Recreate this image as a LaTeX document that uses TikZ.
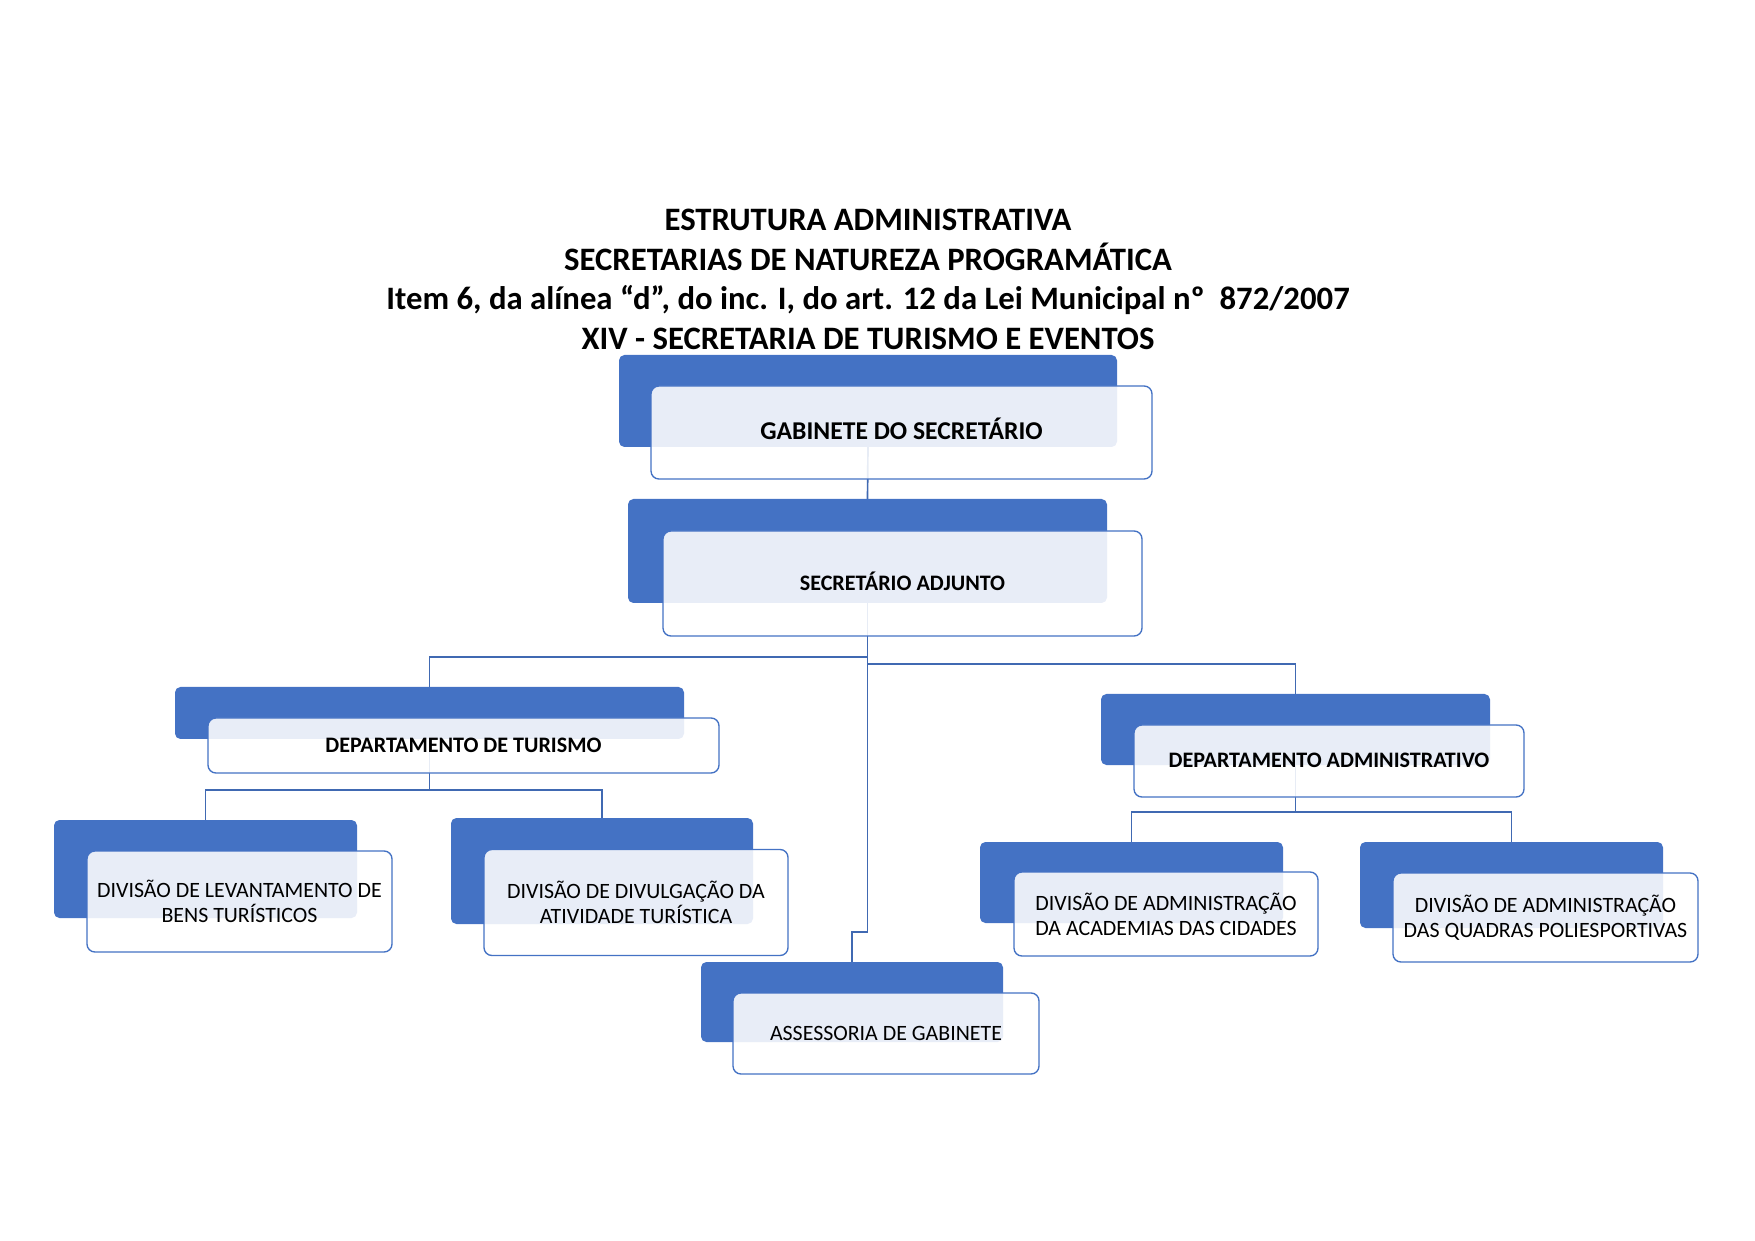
\documentclass[tikz,border=0pt]{standalone}
\usepackage{fontspec}
\setmainfont{Carlito}
\usetikzlibrary{backgrounds}
\definecolor{accent}{HTML}{4472C4}
\definecolor{linkc}{HTML}{4069B2}
\newcommand\pxu{0.4798pt}
\tikzset{
  bluebox/.style={fill=accent, draw=none, rounded corners=2.6pt, inner sep=0pt, outer sep=0pt},
  whitebox/.style={fill=white, fill opacity=0.88, text opacity=1, draw=accent, line width=0.65pt,
    rounded corners=3.8pt, inner sep=0pt, outer sep=0pt, align=center, text=black},
  capcenter/.style={text height=0.644em, text depth=0pt},
  link/.style={draw=linkc, line width=0.8pt},
  titletext/.style={font=\bfseries\fontsize{15.7}{19}\selectfont, anchor=base, inner sep=0pt},
  bigb/.style={font=\bfseries\fontsize{12.3}{14}\selectfont, capcenter},
  midb/.style={font=\bfseries\fontsize{10.6}{12.5}\selectfont, capcenter},
  reg/.style={font=\fontsize{10.5}{12}\selectfont},
}
\begin{document}
\begin{tikzpicture}[x=0.4798pt,y=-0.4798pt]
\useasboundingbox (0,0) rectangle (1755,1241);
% title
\node[titletext] (t1) at (868,231) {ESTRUTURA ADMINISTRATIVA};
\node[titletext] (t2) at (868,270.5) {SECRETARIAS DE NATUREZA PROGRAMÁTICA};
\node[titletext] (t3) at (868,310) {Item 6, da alínea “d”, do inc. I, do art. 12 da Lei Municipal nº\ \ 872/2007};
\node[titletext] (t4) at (868,349.5) {XIV - SECRETARIA DE TURISMO E EVENTOS};

% blue back rectangles
\node[bluebox, minimum width={(1117-619)*\pxu}, minimum height={(447-355)*\pxu}] (gabB) at ({(619+1117)/2},{(355+447)/2}) {};
\node[bluebox, minimum width={(1107-628)*\pxu}, minimum height={(603-499)*\pxu}] (adjB) at ({(628+1107)/2},{(499+603)/2}) {};
\node[bluebox, minimum width={(684-175)*\pxu}, minimum height={(739-687)*\pxu}] (turB) at ({(175+684)/2},{(687+739)/2}) {};
\node[bluebox, minimum width={(1490-1101)*\pxu}, minimum height={(765-694)*\pxu}] (admB) at ({(1101+1490)/2},{(694+765)/2}) {};
\node[bluebox, minimum width={(357-54)*\pxu}, minimum height={(918-820)*\pxu}] (levB) at ({(54+357)/2},{(820+918)/2}) {};
\node[bluebox, minimum width={(753-451)*\pxu}, minimum height={(924-818)*\pxu}] (divB) at ({(451+753)/2},{(818+924)/2}) {};
\node[bluebox, minimum width={(1283-980)*\pxu}, minimum height={(923-842)*\pxu}] (acaB) at ({(980+1283)/2},{(842+923)/2}) {};
\node[bluebox, minimum width={(1663-1360)*\pxu}, minimum height={(928-842)*\pxu}] (quaB) at ({(1360+1663)/2},{(842+928)/2}) {};
\node[bluebox, minimum width={(1003-701)*\pxu}, minimum height={(1042-962)*\pxu}] (assB) at ({(701+1003)/2},{(962+1042)/2}) {};

% white front boxes with text
\node[whitebox, bigb, minimum width={(1152-651)*\pxu}, minimum height={(479-386)*\pxu}] (gab) at ({(651+1152)/2},{(386+479)/2}) {GABINETE DO SECRETÁRIO};
\node[whitebox, midb, minimum width={(1142-663)*\pxu}, minimum height={(636-531)*\pxu}] (adj) at ({(663+1142)/2},{(531+636)/2}) {SECRETÁRIO ADJUNTO};
\node[whitebox, midb, minimum width={(719-208)*\pxu}, minimum height={(773-718)*\pxu}] (tur) at ({(208+719)/2},{(718+773)/2}) {DEPARTAMENTO DE TURISMO};
\node[whitebox, midb, minimum width={(1524-1134)*\pxu}, minimum height={(797-725)*\pxu}] (adm) at ({(1134+1524)/2},{(725+797)/2}) {DEPARTAMENTO ADMINISTRATIVO};
\node[whitebox, reg, minimum width={(392-87)*\pxu}, minimum height={(952-851)*\pxu}] (lev) at ({(87+392)/2},{(851+952)/2}) {DIVISÃO DE LEVANTAMENTO DE\\BENS TURÍSTICOS};
\node[whitebox, reg, minimum width={(788-484)*\pxu}, minimum height={(957-851)*\pxu}] (div) at ({(484+788)/2},{(851+957)/2 - 1.5}) {DIVISÃO DE DIVULGAÇÃO DA\\ATIVIDADE TURÍSTICA};
\node[whitebox, reg, minimum width={(1318-1014)*\pxu}, minimum height={(956-872)*\pxu}] (aca) at ({(1014+1318)/2},{(872+956)/2}) {DIVISÃO DE ADMINISTRAÇÃO\\DA ACADEMIAS DAS CIDADES};
\node[whitebox, reg, minimum width={(1698-1393)*\pxu}, minimum height={(962-873)*\pxu}] (qua) at ({(1393+1698)/2},{(873+962)/2}) {DIVISÃO DE ADMINISTRAÇÃO\\DAS QUADRAS POLIESPORTIVAS};
\node[whitebox, reg, capcenter, minimum width={(1039-733)*\pxu}, minimum height={(1074-993)*\pxu}] (ass) at ({(733+1039)/2},{(993+1074)/2}) {ASSESSORIA DE GABINETE};

% connectors behind everything
\begin{scope}[on background layer]
\draw[link] (gabB.south) -- (adjB.north);
\draw[link] (adjB.south) -- ++(0,54) -| (turB.north);
\draw[link] (adjB.south) -- ++(0,61) -| (admB.north);
\draw[link] (adjB.south) -- ++(0,329) -| (assB.north);
\draw[link] (turB.south) -- ++(0,51) -| (levB.north);
\draw[link] (turB.south) -- ++(0,51) -| (divB.north);
\draw[link] (admB.south) -- ++(0,47) -| (acaB.north);
\draw[link] (admB.south) -- ++(0,47) -| (quaB.north);
\end{scope}
\end{tikzpicture}
\end{document}
